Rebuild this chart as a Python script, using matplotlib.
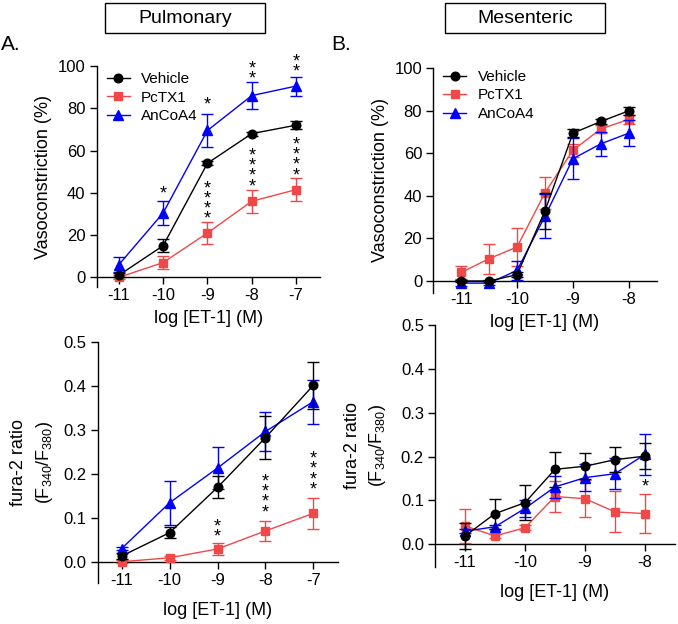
import matplotlib
matplotlib.use("Agg")
import matplotlib.pyplot as plt
from matplotlib.patches import Rectangle
import numpy as np

plt.rcParams['font.family'] = ['Liberation Sans', 'DejaVu Sans']
plt.rcParams['mathtext.fontset'] = 'custom'
plt.rcParams['mathtext.rm'] = 'Liberation Sans'
plt.rcParams['mathtext.it'] = 'Liberation Sans'

# ---------------- data ----------------
series_names = ["Vehicle", "PcTX1", "AnCoA4"]

# Pulmonary vasoconstriction
pul_x = [-11, -10, -9, -8, -7]
pul_vc_vehicle = [1, 15, 54, 68, 72]
pul_vc_vehicle_err = [1.0, 3.0, 1.0, 1.0, 2.0]
pul_vc_pctx1 = [0, 7, 21, 36, 41.5]
pul_vc_pctx1_err = [1.0, 3.0, 5.0, 5.5, 5.5]
pul_vc_ancoa4 = [6, 30.5, 69.5, 86, 90.5]
pul_vc_ancoa4_err = [3.5, 5.5, 8.0, 6.5, 4.5]
pul_vc_sig_x = [-10, -9, -8, -7, -9, -8, -7]
pul_vc_sig_y = [42, 84, 99, 102, 37.4, 52.8, 58]
pul_vc_sig_n = [1, 1, 2, 2, 4, 4, 4]

# Mesenteric vasoconstriction
mes_x = [-11, -10.5, -10, -9.5, -9, -8.5, -8]
mes_vc_vehicle = [0, 0, 3, 33, 69.5, 75, 80]
mes_vc_vehicle_err = [0.5, 0.5, 1.0, 8.5, 2.0, 1.0, 2.0]
mes_vc_pctx1 = [4, 10.5, 16, 41.5, 61.5, 71.5, 76]
mes_vc_pctx1_err = [3.0, 7.0, 9.0, 7.5, 3.0, 2.0, 2.0]
mes_vc_ancoa4 = [-1, -1, 5, 30.5, 57.5, 64.5, 69.5]
mes_vc_ancoa4_err = [1.5, 1.0, 4.5, 10.5, 9.5, 5.5, 6.0]

# Pulmonary fura-2
pul_fr_vehicle = [0.013, 0.066, 0.169, 0.282, 0.401]
pul_fr_vehicle_err = [0.006, 0.013, 0.025, 0.049, 0.054]
pul_fr_pctx1 = [0.0, 0.009, 0.029, 0.070, 0.110]
pul_fr_pctx1_err = [0.003, 0.004, 0.013, 0.023, 0.035]
pul_fr_ancoa4 = [0.030, 0.134, 0.213, 0.296, 0.364]
pul_fr_ancoa4_err = [0.004, 0.050, 0.047, 0.045, 0.050]
pul_fr_sig_x = [-9, -8, -7]
pul_fr_sig_y = [0.0795, 0.159, 0.211]
pul_fr_sig_n = [2, 4, 4]

# Mesenteric fura-2
mes_fr_vehicle = [0.019, 0.070, 0.095, 0.171, 0.178, 0.193, 0.201]
mes_fr_vehicle_err = [0.030, 0.034, 0.040, 0.040, 0.030, 0.028, 0.030]
mes_fr_pctx1 = [0.042, 0.019, 0.038, 0.109, 0.104, 0.074, 0.070]
mes_fr_pctx1_err = [0.038, 0.005, 0.005, 0.035, 0.042, 0.047, 0.045]
mes_fr_ancoa4 = [0.030, 0.040, 0.082, 0.131, 0.152, 0.161, 0.205]
mes_fr_ancoa4_err = [0.005, 0.005, 0.020, 0.025, 0.030, 0.035, 0.047]
mes_fr_sig_x = [-8]
mes_fr_sig_y = [0.143]
mes_fr_sig_n = [1]

COLORS = {"Vehicle": "#000000", "PcTX1": "#F04848", "AnCoA4": "#0000FF"}
MARKERS = {"Vehicle": "o", "PcTX1": "s", "AnCoA4": "^"}
MSIZE = {"Vehicle": 6.2, "PcTX1": 6.0, "AnCoA4": 6.8}
ZORD = {"Vehicle": 5, "PcTX1": 3, "AnCoA4": 4}

W, H = 678, 624
fig = plt.figure(figsize=(W / 100, H / 100), dpi=100)


def px_axes(l, t, r, b):
    ax = fig.add_axes([l / W, 1 - b / H, (r - l) / W, (b - t) / H])
    ax.patch.set_visible(False)
    return ax


def style(ax, xticks, xlim, ylim, yticks, yfmt, xpad):
    ax.set_xlim(*xlim)
    ax.set_ylim(*ylim)
    ax.spines['top'].set_visible(False)
    ax.spines['right'].set_visible(False)
    ax.spines['bottom'].set_position(('data', 0))
    for s in ('left', 'bottom'):
        ax.spines[s].set_linewidth(1.0)
    ax.set_xticks(xticks)
    ax.set_xticklabels([str(v) for v in xticks])
    ax.set_yticks(yticks)
    ax.set_yticklabels([yfmt.format(v) for v in yticks])
    ax.tick_params(axis='both', length=5.0, width=1.0, labelsize=12, pad=3)
    ax.set_xlabel("log [ET-1] (M)", fontsize=13, labelpad=xpad)


def draw(ax, x, vals, errs):
    handles = []
    for name in series_names:
        y, e = vals[name], errs[name]
        c = COLORS[name]
        ax.errorbar(x, y, yerr=e, fmt='none', ecolor=c, elinewidth=1.0,
                    capsize=4, capthick=1.0, zorder=ZORD[name])
        h, = ax.plot(x, y, color=c, lw=1.0, marker=MARKERS[name],
                     ms=MSIZE[name], mfc=c, mec=c, zorder=ZORD[name] + 0.5,
                     clip_on=False, label=name)
        handles.append(h)
    return handles


def stars(ax, xs, ys, ns):
    for x, y, n in zip(xs, ys, ns):
        ax.annotate("\n".join(['*'] * n), xy=(x, y), xytext=(0, -4.0),
                    textcoords='offset points', ha='center', va='center',
                    fontsize=13, color='black', linespacing=0.48,
                    annotation_clip=False)


def legend(ax, handles, ytop):
    ax.legend(handles=handles, loc='upper left', bbox_to_anchor=(0.045, ytop),
              frameon=False, fontsize=11, handlelength=1.5, handletextpad=0.75,
              labelspacing=0.3, borderpad=0.0, borderaxespad=0.0)


# ---- Panel A top ----
ax1 = px_axes(96.7, 66, 320, 287.3)
style(ax1, pul_x, (-11.5, -6.46), (-4.7, 100), [0, 20, 40, 60, 80, 100], "{:d}", 5)
h1 = draw(ax1, pul_x,
          {"Vehicle": pul_vc_vehicle, "PcTX1": pul_vc_pctx1, "AnCoA4": pul_vc_ancoa4},
          {"Vehicle": pul_vc_vehicle_err, "PcTX1": pul_vc_pctx1_err, "AnCoA4": pul_vc_ancoa4_err})
stars(ax1, pul_vc_sig_x, pul_vc_sig_y, pul_vc_sig_n)
ax1.set_ylabel("Vasoconstriction (%)", fontsize=13, labelpad=4)
legend(ax1, h1, 0.972)

# ---- Panel B top ----
ax2 = px_axes(433.3, 68.3, 656.7, 292.7)
style(ax2, [-11, -10, -9, -8], (-11.5, -7.5), (-5.5, 100), [0, 20, 40, 60, 80, 100], "{:d}", 5)
h2 = draw(ax2, mes_x,
          {"Vehicle": mes_vc_vehicle, "PcTX1": mes_vc_pctx1, "AnCoA4": mes_vc_ancoa4},
          {"Vehicle": mes_vc_vehicle_err, "PcTX1": mes_vc_pctx1_err, "AnCoA4": mes_vc_ancoa4_err})
ax2.set_ylabel("Vasoconstriction (%)", fontsize=13, labelpad=4)
legend(ax2, h2, 0.993)

# ---- Panel A bottom ----
ax3 = px_axes(97.7, 341.7, 338.3, 583.3)
style(ax3, pul_x, (-11.5, -6.48), (-0.049, 0.5), [0.0, 0.1, 0.2, 0.3, 0.4, 0.5], "{:.1f}", 10)
draw(ax3, pul_x,
     {"Vehicle": pul_fr_vehicle, "PcTX1": pul_fr_pctx1, "AnCoA4": pul_fr_ancoa4},
     {"Vehicle": pul_fr_vehicle_err, "PcTX1": pul_fr_pctx1_err, "AnCoA4": pul_fr_ancoa4_err})
stars(ax3, pul_fr_sig_x, pul_fr_sig_y, pul_fr_sig_n)
ax3.set_ylabel("fura-2 ratio\n(F$_{340}$/F$_{380}$)", fontsize=13, labelpad=6,
               linespacing=1.45)

# ---- Panel B bottom ----
ax4 = px_axes(435, 325, 675, 566.7)
style(ax4, [-11, -10, -9, -8], (-11.5, -7.5), (-0.051, 0.5), [0.0, 0.1, 0.2, 0.3, 0.4, 0.5], "{:.1f}", 10)
draw(ax4, mes_x,
     {"Vehicle": mes_fr_vehicle, "PcTX1": mes_fr_pctx1, "AnCoA4": mes_fr_ancoa4},
     {"Vehicle": mes_fr_vehicle_err, "PcTX1": mes_fr_pctx1_err, "AnCoA4": mes_fr_ancoa4_err})
stars(ax4, mes_fr_sig_x, mes_fr_sig_y, mes_fr_sig_n)
ax4.set_ylabel("fura-2 ratio\n(F$_{340}$/F$_{380}$)", fontsize=13, labelpad=9,
               linespacing=1.45)

# ---- Title boxes and panel letters ----
for (l, r, label) in [(105, 265, "Pulmonary"), (445, 605, "Mesenteric")]:
    fig.patches.append(Rectangle((l / W, 1 - 33 / H), (r - l) / W, 30 / H,
                                 transform=fig.transFigure, fill=False,
                                 edgecolor='black', linewidth=1.0))
    fig.text((l + r) / 2 / W, 1 - 18.5 / H, label, ha='center', va='center', fontsize=14)

fig.text(1 / W, 1 - 50 / H, "A.", ha='left', va='baseline', fontsize=15)
fig.text(331 / W, 1 - 50 / H, "B.", ha='left', va='baseline', fontsize=15)

fig.savefig("out.png", dpi=100)
